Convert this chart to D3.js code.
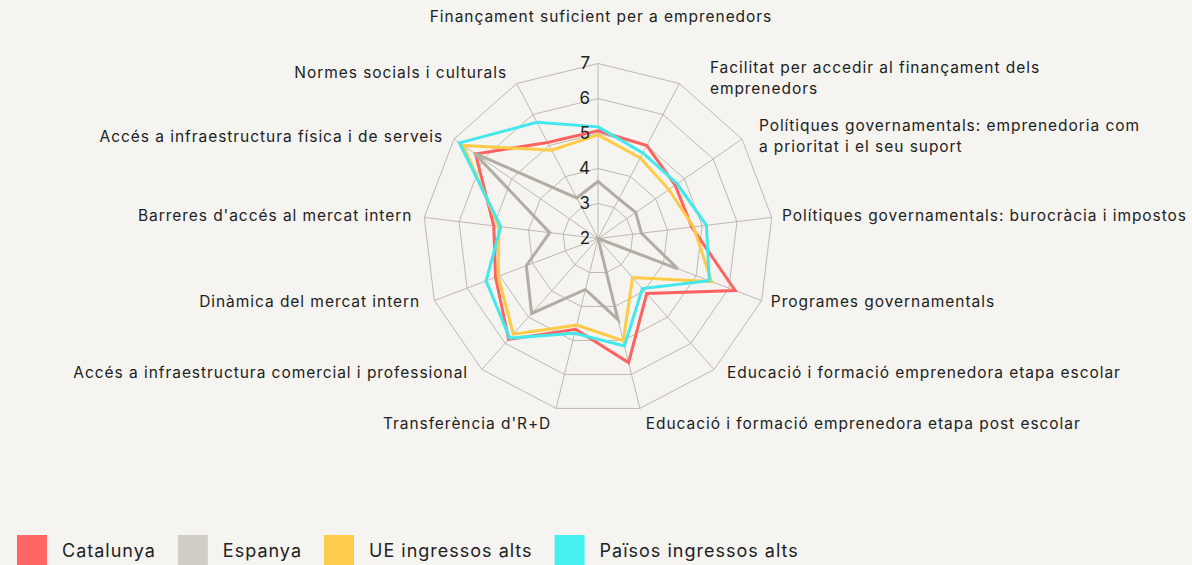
<!DOCTYPE html>
<html><head><meta charset="utf-8">
<script src="https://cdn.jsdelivr.net/npm/d3@7"></script>
<style>
html,body{margin:0;padding:0;background:#f5f4f0;}
svg{display:block;font-family:Inter,"Noto Sans",sans-serif;}
</style></head><body>
<svg id="chart" width="1192" height="565"></svg>
<script>
// ---------- DATA ----------
const categories = [
  "Finançament suficient per a emprenedors",
  "Facilitat per accedir al finançament dels\nemprenedors",
  "Polítiques governamentals: emprenedoria com\na prioritat i el seu suport",
  "Polítiques governamentals: burocràcia i impostos",
  "Programes governamentals",
  "Educació i formació emprenedora etapa escolar",
  "Educació i formació emprenedora etapa post escolar",
  "Transferència d'R+D",
  "Accés a infraestructura comercial i professional",
  "Dinàmica del mercat intern",
  "Barreres d'accés al mercat intern",
  "Accés a infraestructura física i de serveis",
  "Normes socials i culturals"
];
const seriesNames = ["Catalunya", "Espanya", "UE ingressos alts", "Països ingressos alts"];
const catalunya  = [5.08, 5.00, 4.68, 4.70, 6.19, 4.10, 5.65, 4.67, 5.85, 5.13, 5.00, 6.25, 5.10];
const espanya    = [3.63, 3.28, 3.31, 3.25, 4.44, 2.00, 4.39, 3.50, 4.86, 4.19, 3.39, 6.30, 3.31];
const ueAlts     = [4.96, 4.60, 4.46, 4.75, 5.47, 3.49, 5.01, 4.55, 5.65, 5.05, 4.85, 6.68, 4.85];
const paisosAlts = [5.19, 4.76, 4.75, 5.12, 5.40, 3.91, 5.16, 4.79, 5.80, 5.42, 4.80, 6.81, 5.75];
const tickValues = [2, 3, 4, 5, 6, 7];

// ---------- STYLE / LAYOUT ----------
const lineColors   = ["#ff6361", "#b0ada3", "#ffcb47", "#42e8ec"];
const swatchColors = ["#ff6666", "#d0cec4", "#ffcc4d", "#45f0f0"];
const W = 1192, H = 565;
const cx = 598, cy = 238.5, R = 175, labelR = 187;
// small per-label nudges (layout only)
const labelNudge = [[3,-34.5],[25,5.6],[7,4.2],[-1.6,0],[-2,-3],[5,-5.5],[3,4],[-2,4],[-6,-5.5],[-3,-3],[0,0],[-1,4.7],[-4,0]];

const series = [catalunya, espanya, ueAlts, paisosAlts];
const n = categories.length;

const svg = d3.select("#chart");
svg.append("rect").attr("width", W).attr("height", H).attr("fill", "#f5f4f0");
const g = svg.append("g").attr("transform", `translate(${cx},${cy})`);

const r = d3.scaleLinear().domain([2, 7]).range([0, R]);
const angle = d3.scaleLinear().domain([0, n]).range([0, 2 * Math.PI]);
const idx = d3.range(n);

// grid rings
const ringLine = d3.lineRadial().angle(i => angle(i)).curve(d3.curveLinearClosed);
g.append("g").selectAll("path").data(tickValues.filter(t => t > 2)).join("path")
  .attr("d", t => ringLine.radius(() => r(t))(idx))
  .attr("fill", "none").attr("stroke", "#bcb9b1").attr("stroke-width", 1);

// spokes
g.append("g").selectAll("line").data(idx).join("line")
  .attr("x1", 0).attr("y1", 0)
  .attr("x2", i => r(7) * Math.sin(angle(i)))
  .attr("y2", i => -r(7) * Math.cos(angle(i)))
  .attr("stroke", "#bcb9b1").attr("stroke-width", 1);

// series
const seriesLine = d3.lineRadial()
  .angle((d, i) => angle(i))
  .radius(d => r(Math.max(2, d)))
  .curve(d3.curveLinearClosed);
g.append("g").selectAll("path").data(series).join("path")
  .attr("d", d => seriesLine(d))
  .attr("fill", "none")
  .attr("stroke", (d, i) => lineColors[i])
  .attr("stroke-width", 3)
  .attr("stroke-linejoin", "miter");

// tick labels
g.append("g").selectAll("text").data(tickValues).join("text")
  .attr("x", -8).attr("y", t => -r(t))
  .attr("dy", "0.35em")
  .attr("text-anchor", "end")
  .attr("font-size", 17).attr("fill", "#222")
  .text(t => t);

// axis labels
g.append("g").selectAll("text").data(categories).join("text")
  .attr("font-size", 15.5).attr("fill", "#222")
  .attr("letter-spacing", 0.95)
  .attr("text-anchor", (d, i) => {
    const s = Math.sin(angle(i));
    return Math.abs(s) < 0.01 ? "middle" : (s > 0 ? "start" : "end");
  })
  .each(function (d, i) {
    const a = angle(i);
    const x = labelR * Math.sin(a) + labelNudge[i][0];
    const y = -labelR * Math.cos(a) + labelNudge[i][1];
    const lines = d.split("\n");
    const lh = 21;
    const t = d3.select(this);
    lines.forEach((ln, k) => {
      t.append("tspan").attr("x", x)
        .attr("y", y + (k - (lines.length - 1) / 2) * lh)
        .attr("dy", "0.35em").text(ln);
    });
  });

// legend
const leg = svg.append("g").attr("transform", "translate(17,535)");
let lx = 0;
seriesNames.forEach((name, i) => {
  const it = leg.append("g").attr("transform", `translate(${lx},0)`);
  it.append("rect").attr("width", 30).attr("height", 30).attr("fill", swatchColors[i]);
  const tx = it.append("text").attr("x", 45).attr("y", 16).attr("dy", "0.35em")
    .attr("font-size", 18).attr("letter-spacing", 1).attr("fill", "#222").text(name);
  lx += 45 + tx.node().getComputedTextLength() + 22;
});
</script>
</body></html>
